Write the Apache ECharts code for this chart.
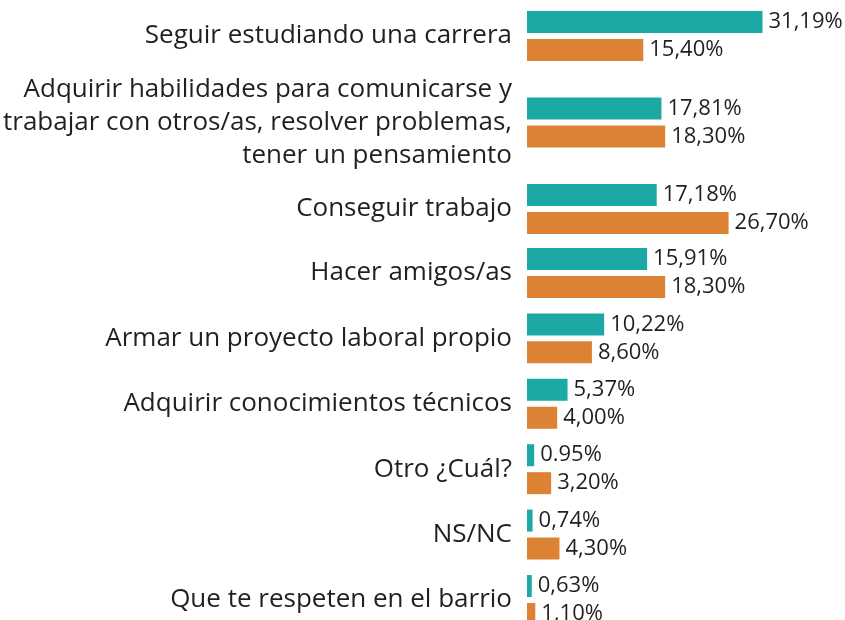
<!DOCTYPE html>
<html>
<head>
<meta charset="utf-8">
<script src="https://cdn.jsdelivr.net/npm/echarts@6/dist/echarts.min.js"></script>
<style>
  html, body { margin: 0; padding: 0; background: #fff; }
  #chart { width: 845px; height: 620px; }
</style>
</head>
<body>
<div id="chart"></div>
<script>
const categories = [
  'Seguir estudiando una carrera',
  'Adquirir habilidades para comunicarse y\ntrabajar con otros/as, resolver problemas,\ntener un pensamiento',
  'Conseguir trabajo',
  'Hacer amigos/as',
  'Armar un proyecto laboral propio',
  'Adquirir conocimientos técnicos',
  'Otro ¿Cuál?',
  'NS/NC',
  'Que te respeten en el barrio'
]
const tealValues = [31.19, 17.81, 17.18, 15.91, 10.22, 5.37, 0.95, 0.74, 0.63]
const orangeValues = [15.40, 18.30, 26.70, 18.30, 8.60, 4.00, 3.20, 4.30, 1.10]
const tealLabels = ['31,19%', '17,81%', '17,18%', '15,91%', '10,22%', '5,37%', '0.95%', '0,74%', '0,63%']
const orangeLabels = ['15,40%', '18,30%', '26,70%', '18,30%', '8,60%', '4,00%', '3,20%', '4,30%', '1,10%']

const TEAL = '#1ca9a5'
const ORANGE = '#dc8234'
const TEXT = '#231f20'
const FONT = 'Open Sans'

// first three rows have more room than the rest, so two grids.
// boundaryGap off: first and last category sit on the grid edges
const split = 3
const grids = [
  { left: 527, width: 302, top: 36, height: 173 },
  { left: 527, width: 302, top: 273, height: 327 }
]

const chart = echarts.init(document.getElementById('chart'))

const xAxes = grids.map((g, i) => ({
  type: 'value',
  gridIndex: i,
  min: 0,
  max: 40,
  show: false
}))

const yAxes = grids.map((g, i) => ({
  type: 'category',
  gridIndex: i,
  inverse: true,
  boundaryGap: false,
  data: i === 0 ? categories.slice(0, split) : categories.slice(split),
  axisLine: { show: false },
  axisTick: { show: false },
  splitLine: { show: false },
  axisLabel: {
    margin: 15,
    color: TEXT,
    fontFamily: FONT,
    fontSize: 26,
    lineHeight: 33
  }
}))

const makeSeries = (values, labels, color, gridIdx) => {
  const from = gridIdx === 0 ? 0 : split
  const to = gridIdx === 0 ? split : categories.length
  const labs = labels.slice(from, to)
  return {
    type: 'bar',
    xAxisIndex: gridIdx,
    yAxisIndex: gridIdx,
    data: values.slice(from, to),
    barWidth: 22,
    barGap: '27%',
    itemStyle: { color: color },
    label: {
      show: true,
      position: 'right',
      distance: 6,
      color: TEXT,
      fontFamily: FONT,
      fontSize: 22,
      formatter: p => labs[p.dataIndex]
    }
  }
}

const option = {
  animation: false,
  grid: grids,
  xAxis: xAxes,
  yAxis: yAxes,
  series: [
    makeSeries(tealValues, tealLabels, TEAL, 0),
    makeSeries(orangeValues, orangeLabels, ORANGE, 0),
    makeSeries(tealValues, tealLabels, TEAL, 1),
    makeSeries(orangeValues, orangeLabels, ORANGE, 1)
  ]
}

chart.setOption(option)
</script>
</body>
</html>
